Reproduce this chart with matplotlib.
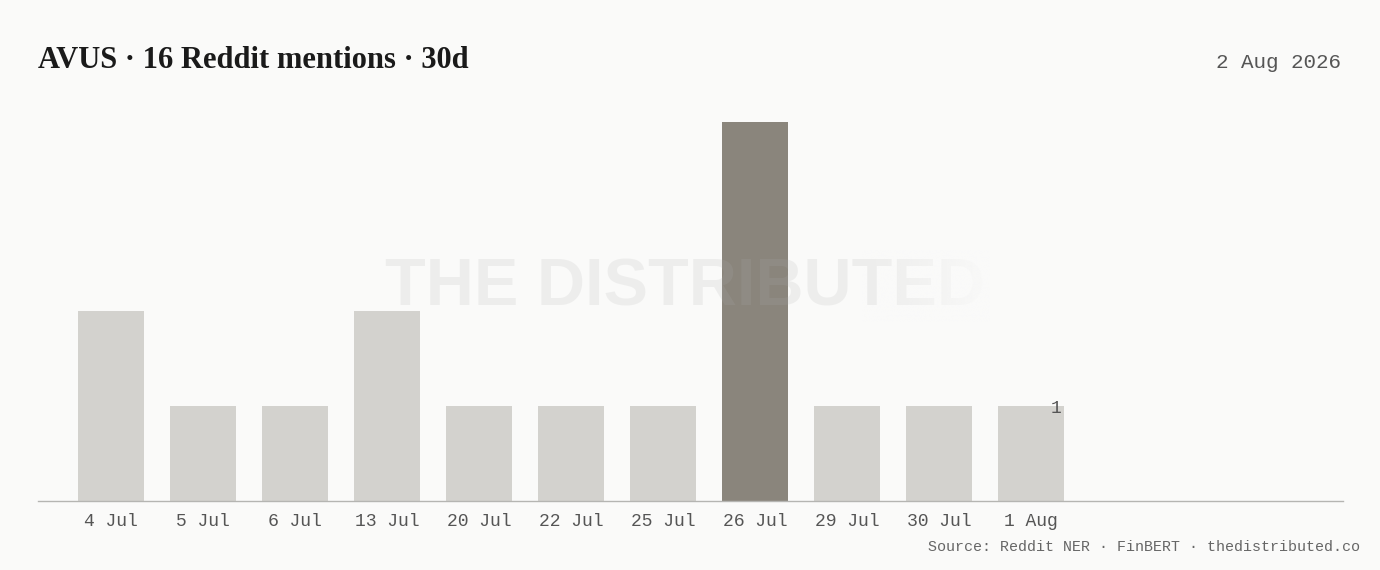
import matplotlib
matplotlib.use('Agg')
import matplotlib.pyplot as plt
import matplotlib.colors as mcolors
import numpy as np

days = ['4 Jul', '5 Jul', '6 Jul', '13 Jul', '20 Jul', '22 Jul', '25 Jul',
        '26 Jul', '29 Jul', '30 Jul', '1 Aug']
mentions = [2, 1, 1, 2, 1, 1, 1, 4, 1, 1, 1]
peak_day = '26 Jul'

title = 'AVUS · 16 Reddit mentions · 30d'
date_txt = '2 Aug 2026'
source = 'Source: Reddit NER · FinBERT · thedistributed.co'

BG = '#fafaf9'
BAR = '#d3d2ce'
PEAK = '#8a857c'
MONO = 'Liberation Mono'

W, H = 1380, 570
fig = plt.figure(figsize=(W / 100, H / 100), dpi=100, facecolor=BG)
ax = fig.add_axes([38 / W, 69 / H, (1343 - 38) / W, 398 / H])
ax.set_facecolor(BG)

x = np.arange(len(days))
colors = [PEAK if d == peak_day else BAR for d in days]
bars = ax.bar(x, mentions, width=0.72, color=colors, zorder=2)

ax.set_xlim(-0.79, 13.39)
ax.set_ylim(0, 4.2)
ax.set_xticks(x)
ax.set_xticklabels(days, fontfamily=MONO, fontsize=13, color='#555555')
ax.tick_params(axis='x', length=0, pad=9)
ax.set_yticks([])
for s in ['top', 'right', 'left']:
    ax.spines[s].set_visible(False)
ax.spines['bottom'].set_color('#b5b5b2')
ax.spines['bottom'].set_linewidth(1.0)

# latest value label
last = bars[-1]
ax.text(last.get_x() + last.get_width() - 0.03, mentions[-1] - 0.02, str(mentions[-1]),
        ha='right', va='center', fontfamily=MONO, fontsize=13, color='#555555', zorder=4)

# watermark
fig.text(385 / W, 1 - 289 / H, 'THE DISTRIBUTED', ha='left', va='center',
         fontfamily='Liberation Sans', fontweight='bold', fontsize=48,
         color='#aeaeae', alpha=0.16, zorder=5)
# fade out the right end of the watermark
fade = np.zeros((1, 256, 4))
fade[..., :3] = mcolors.to_rgb(BG)
fade[..., 3] = np.linspace(0, 1, 256) ** 1.2
fax = fig.add_axes([860 / W, 1 - 322 / H, 130 / W, 72 / H], zorder=6)
fax.imshow(fade, aspect='auto', interpolation='bilinear')
fax.axis('off')

fig.text(38 / W, 1 - 60 / H, title, ha='left', va='center',
         fontfamily='Liberation Serif', fontweight='bold', fontsize=22, color='#1a1a1a')
fig.text(1341 / W, 1 - 63 / H, date_txt, ha='right', va='center',
         fontfamily=MONO, fontsize=15, color='#555555')
fig.text(1360 / W, 1 - 547 / H, source, ha='right', va='center',
         fontfamily=MONO, fontsize=10.8, color='#666666')

fig.savefig('out.png', dpi=100, facecolor=BG)
